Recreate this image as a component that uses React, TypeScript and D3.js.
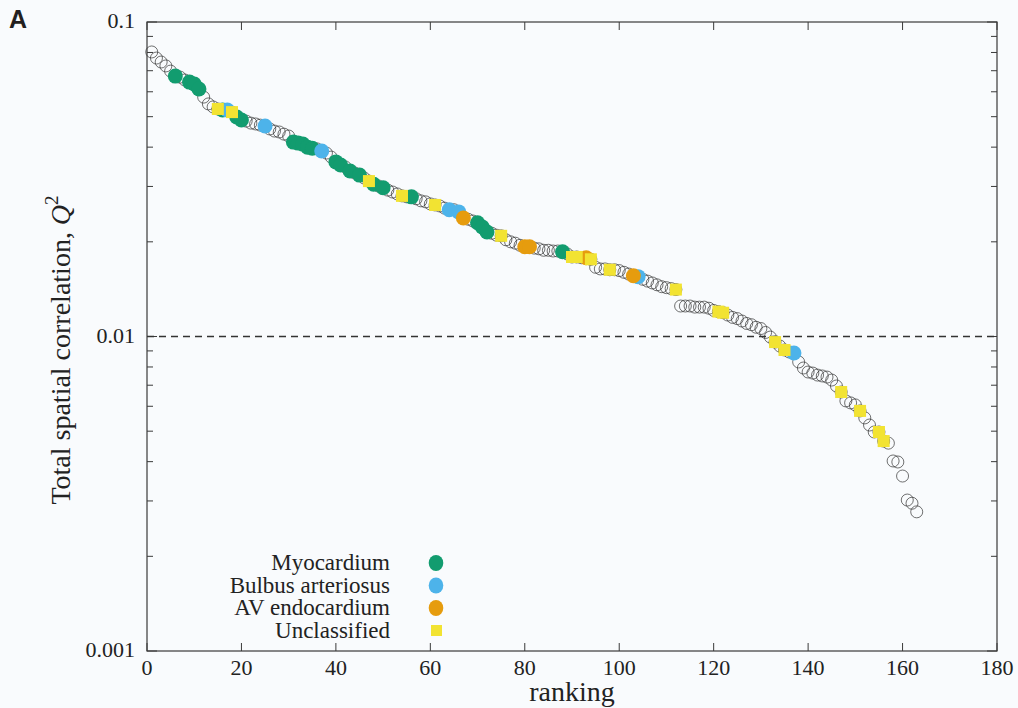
import React from "react";
import * as d3 from "d3";

// Q² value for ranking 1..163
const q2Values: number[] = [
  0.0803, 0.0768, 0.0746, 0.0725, 0.0698, 0.0673, 0.0668, 0.0654, 0.0644, 0.0635,
  0.0612, 0.0577, 0.0549, 0.0537, 0.0529, 0.0525, 0.0525, 0.0517, 0.0499, 0.0488,
  0.0484, 0.0477, 0.0474, 0.0470, 0.0467, 0.0457, 0.0450, 0.0447, 0.0440, 0.0434,
  0.0415, 0.0412, 0.0409, 0.0400, 0.0397, 0.0395, 0.0389, 0.0383, 0.0372, 0.0359,
  0.0351, 0.0346, 0.0336, 0.0331, 0.0326, 0.0319, 0.0312, 0.0305, 0.0301, 0.0297,
  0.0292, 0.0288, 0.0284, 0.0280, 0.0278, 0.0278, 0.0274, 0.0270, 0.0268, 0.0264,
  0.0262, 0.0260, 0.0256, 0.0253, 0.0253, 0.0249, 0.0238, 0.0236, 0.0233, 0.0230,
  0.0223, 0.0215, 0.0213, 0.0210, 0.0209, 0.0203, 0.0200, 0.0198, 0.0195, 0.0193,
  0.0193, 0.0191, 0.0190, 0.0188, 0.0188, 0.0187, 0.0187, 0.0186, 0.0183, 0.0179,
  0.0179, 0.0178, 0.0178, 0.0176, 0.0166, 0.0164, 0.0164, 0.0163, 0.0163, 0.0162,
  0.0160, 0.0158, 0.0156, 0.0155, 0.0152, 0.0150, 0.0148, 0.0146, 0.0144, 0.0143,
  0.0142, 0.0141, 0.0125, 0.0125, 0.0125, 0.0124, 0.0124, 0.0124, 0.0123, 0.0121,
  0.0120, 0.0119, 0.0117, 0.0115, 0.0114, 0.0112, 0.0110, 0.0109, 0.0107, 0.0106,
  0.0103, 0.00996, 0.0096, 0.00933, 0.00906, 0.00893, 0.00886, 0.0083, 0.00794, 0.00771,
  0.00765, 0.00754, 0.00749, 0.00743, 0.00727, 0.00696, 0.00666, 0.00624, 0.00615, 0.00606,
  0.0058, 0.00551, 0.00523, 0.00497, 0.00497, 0.00465, 0.00458, 0.00402, 0.00399, 0.0036,
  0.00302, 0.00295, 0.00277,
];

// rankings of classified points
const myocardiumRanks = [6, 9, 10, 11, 16, 19, 20, 31, 32, 33, 34, 35, 40, 41, 43, 45, 48, 50, 56, 70, 71, 72, 88];
const bulbusRanks = [17, 25, 37, 64, 66, 104, 137];
const avRanks = [67, 80, 81, 93, 103];
const unclassifiedRanks = [15, 18, 47, 54, 61, 75, 90, 91, 94, 98, 112, 121, 122, 133, 135, 147, 151, 155, 156];

const legendLabels = ["Myocardium", "Bulbus arteriosus", "AV endocardium", "Unclassified"];
const classColors = ["#129c6f", "#4db3ea", "#e69c0e", "#f2e332"];

const xTicks = [0, 20, 40, 60, 80, 100, 120, 140, 160, 180];
const yMajorTicks = [0.1, 0.01, 0.001];
const yTickLabels = ["0.1", "0.01", "0.001"];
const threshold = 0.01;

const W = 1018;
const H = 708;
const L = 147, R = 997, T = 22, B = 651;

export default function App() {
  const x = d3.scaleLinear().domain([0, 180]).range([L, R]);
  const y = d3.scaleLog().domain([0.001, 0.1]).range([B, T]);

  const minorTicks: number[] = [];
  for (const dec of [0.001, 0.01]) for (let k = 2; k <= 9; k++) minorTicks.push(dec * k);

  const pts = q2Values.map((v, i) => ({ r: i + 1, v }));
  const byRank = (r: number) => pts[r - 1];
  const groups = [myocardiumRanks, bulbusRanks, avRanks, unclassifiedRanks];
  const serif = "'Liberation Serif', 'Times New Roman', serif";
  const axisColor = "#3a3a3a";

  return (
    <svg width={W} height={H} style={{ position: "absolute", left: 0, top: 0 }} xmlns="http://www.w3.org/2000/svg">
      <rect x={0} y={0} width={W} height={H} fill="#f9fbfd" />
      <text x={9} y={28} fontFamily="'Liberation Sans', Arial, sans-serif" fontWeight="bold" fontSize={25} fill="#231f20">A</text>

      {/* frame */}
      <rect x={L} y={T} width={R - L} height={B - T} fill="none" stroke={axisColor} strokeWidth={1.2} />

      {/* x ticks */}
      {xTicks.map((t) => (
        <g key={"xt" + t}>
          <line x1={x(t)} x2={x(t)} y1={B} y2={B - 8} stroke={axisColor} strokeWidth={1} />
          <line x1={x(t)} x2={x(t)} y1={T} y2={T + 8} stroke={axisColor} strokeWidth={1} />
          <text x={x(t)} y={B + 24} textAnchor="middle" fontFamily={serif} fontSize={22} fill="#222">{t}</text>
        </g>
      ))}

      {/* y ticks */}
      {yMajorTicks.map((t, i) => (
        <g key={"yt" + t}>
          <line x1={L} x2={L + 10} y1={y(t)} y2={y(t)} stroke={axisColor} strokeWidth={1} />
          <line x1={R} x2={R - 10} y1={y(t)} y2={y(t)} stroke={axisColor} strokeWidth={1} />
          <text x={L - 12} y={y(t) + 6} textAnchor="end" fontFamily={serif} fontSize={22} fill="#222">{yTickLabels[i]}</text>
        </g>
      ))}
      {minorTicks.map((t) => (
        <g key={"ym" + t}>
          <line x1={L} x2={L + 6} y1={y(t)} y2={y(t)} stroke={axisColor} strokeWidth={1} />
          <line x1={R} x2={R - 6} y1={y(t)} y2={y(t)} stroke={axisColor} strokeWidth={1} />
        </g>
      ))}

      {/* threshold line */}
      <line x1={L} x2={R} y1={y(threshold)} y2={y(threshold)} stroke="#333" strokeWidth={1.4} strokeDasharray="7,5" />

      {/* open circles for all */}
      {pts.map((p) => (
        <circle key={"o" + p.r} cx={x(p.r)} cy={y(p.v)} r={6} fill="none" stroke="#333" strokeWidth={0.7} />
      ))}

      {/* classified overlays */}
      {groups.map((ranks, gi) =>
        ranks.map((r) => {
          const p = byRank(r);
          if (gi === 3) {
            return <rect key={"c" + gi + "-" + r} x={x(p.r) - 6} y={y(p.v) - 6} width={12} height={12} fill={classColors[gi]} />;
          }
          return <circle key={"c" + gi + "-" + r} cx={x(p.r)} cy={y(p.v)} r={7.5} fill={classColors[gi]} />;
        })
      )}

      {/* legend */}
      {legendLabels.map((lab, i) => {
        const ly = 563 + i * 22.5;
        return (
          <g key={"lg" + i}>
            <text x={390} y={ly + 7} textAnchor="end" fontFamily={serif} fontSize={23} fill="#222">{lab}</text>
            {i < 3 ? (
              <ellipse cx={436} cy={ly} rx={7.3} ry={8} fill={classColors[i]} />
            ) : (
              <rect x={431} y={ly - 5.5} width={11} height={11} fill={classColors[i]} />
            )}
          </g>
        );
      })}

      {/* axis titles */}
      <text x={(L + R) / 2} y={701} textAnchor="middle" fontFamily={serif} fontSize={28} fill="#222">ranking</text>
      <text transform={`translate(70, 350) rotate(-90)`} textAnchor="middle" fontFamily={serif} fontSize={28} fill="#222">
        Total spatial correlation, <tspan fontStyle="italic">Q</tspan>
        <tspan fontSize={19} dy={-12}>2</tspan>
      </text>
    </svg>
  );
}
